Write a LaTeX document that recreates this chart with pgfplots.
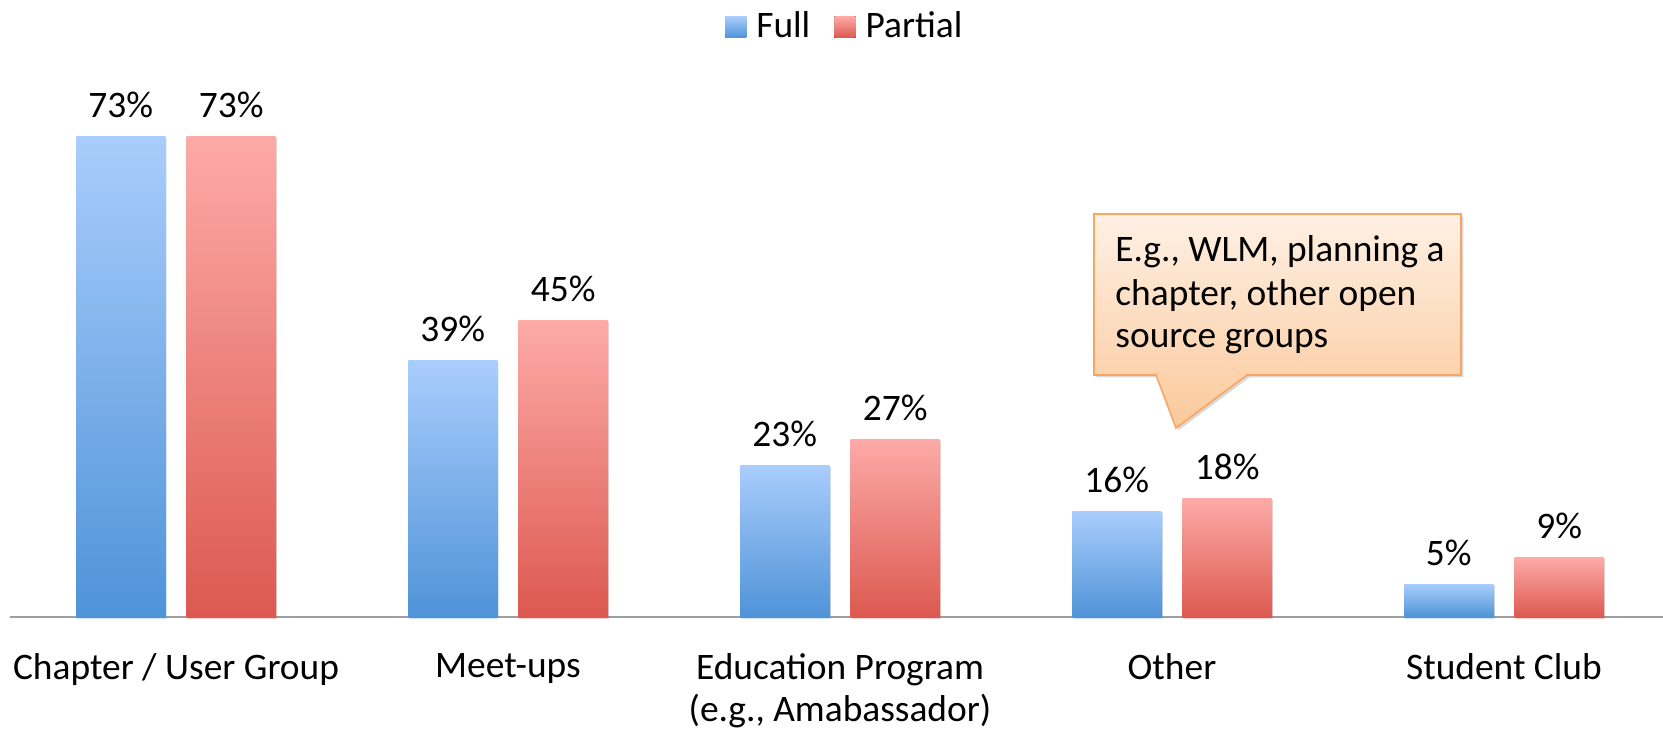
\documentclass[border=0pt]{standalone}
\usepackage{pgfplots}
\pgfplotsset{compat=1.18}
\usepackage{fontspec}
\setmainfont{Carlito}
\usetikzlibrary{shadows}
\definecolor{bluetop}{HTML}{A9CDFC}
\definecolor{bluebot}{HTML}{4F93D8}
\definecolor{redtop}{HTML}{FDAAA7}
\definecolor{redbot}{HTML}{DC5950}
\definecolor{calltop}{HTML}{FEF0E4}
\definecolor{callbot}{HTML}{FBC99B}
\definecolor{callline}{HTML}{F8A562}
\newcommand{\bigfont}{\fontsize{18.7pt}{21pt}\selectfont}
\begin{document}
\bigfont
\begin{tikzpicture}
\begin{axis}[
  at={(5pt,56.5pt)}, anchor=south west,
  scale only axis,
  width=826.5pt, height=279pt,
  xmin=-0.5, xmax=4.479,
  ymin=0, ymax=84.8,
  ybar, bar width=44.5pt,
  axis y line=none,
  axis x line*=bottom,
  x axis line style={draw=black!38, line width=1.1pt, -},
  xtick={0,1,2,3,4},
  xticklabels={{Chapter / User Group}, {Meet-ups}, {Education Program\\(e.g., Amabassador)}, {Other}, {Student Club}},
  xtick style={draw=none},
  xticklabel style={align=center, font=\bigfont, inner sep=0pt, anchor=north, yshift=-14pt},
  /pgf/number format/assume math mode=true,
  nodes near coords={\pgfmathprintnumber{\pgfplotspointmeta}\%},
  every node near coord/.append style={font=\bigfont, anchor=base, inner sep=0pt, yshift=9.5pt, text=black},
  legend style={at={(0.5056,1)}, anchor=center, yshift=16pt, draw=none, fill=none, font=\bigfont, legend columns=2,
    /tikz/every even column/.append style={column sep=10pt},
    /tikz/every odd column/.append style={column sep=3pt}, inner sep=0pt},
  legend image code/.code={\fill[#1, draw=none] (0pt,-5.3pt) rectangle (10.6pt,5.3pt);},
  clip=false,
  fullbar/.style={draw=none, top color=bluetop, bottom color=bluebot, bar shift=-27.6pt, forget plot,
    drop shadow={shadow xshift=0.6pt, shadow yshift=-0.6pt, opacity=0.25}},
  partbar/.style={draw=none, top color=redtop, bottom color=redbot, bar shift=27.6pt, forget plot,
    drop shadow={shadow xshift=0.6pt, shadow yshift=-0.6pt, opacity=0.25}},
]
% Full
\addplot[fullbar] coordinates {(0,73)};
\addplot[fullbar] coordinates {(1,39)};
\addplot[fullbar] coordinates {(2,23)};
\addplot[fullbar] coordinates {(3,16)};
\addplot[fullbar] coordinates {(4,5)};
% Partial
\addplot[partbar] coordinates {(0,73)};
\addplot[partbar] coordinates {(1,45)};
\addplot[partbar] coordinates {(2,27)};
\addplot[partbar] coordinates {(3,18)};
\addplot[partbar] coordinates {(4,9)};
\addlegendimage{draw=none, top color=bluetop, bottom color=bluebot}
\addlegendentry{Full}
\addlegendimage{draw=none, top color=redtop, bottom color=redbot}
\addlegendentry{Partial}
\end{axis}
% callout
\path[draw=callline, line width=0.8pt, top color=calltop, bottom color=callbot,
  drop shadow={shadow xshift=1.2pt, shadow yshift=-1.2pt, opacity=0.3}]
  (547pt,258pt) -- (730.5pt,258pt) -- (730.5pt,177.5pt) -- (623.5pt,177.5pt)
  -- (588pt,151pt) -- (578pt,177.5pt) -- (547pt,177.5pt) -- cycle;
\node[anchor=base west, inner sep=0pt] at (557.5pt,234.2pt) {E.g., WLM, planning a};
\node[anchor=base west, inner sep=0pt] at (557.5pt,212.5pt) {chapter, other open};
\node[anchor=base west, inner sep=0pt] at (557.5pt,191.5pt) {source groups};
\pgfresetboundingbox
\path (0,0) rectangle (831.5pt,365pt);
\end{tikzpicture}
\end{document}
